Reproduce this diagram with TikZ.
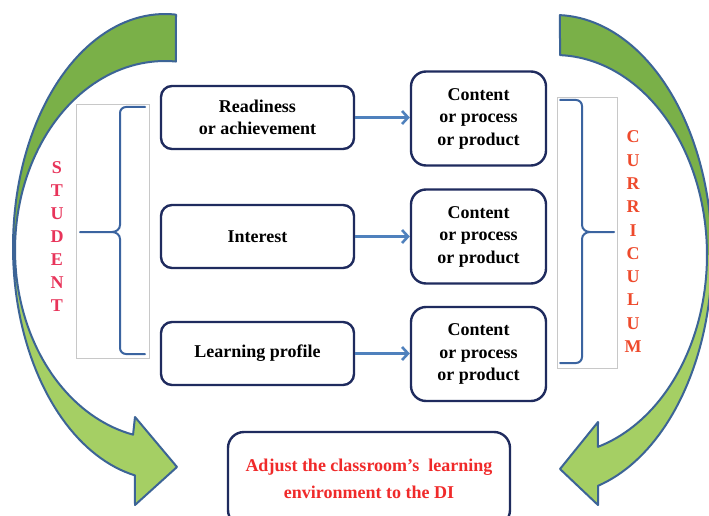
\documentclass[tikz,border=0pt]{standalone}
\usepackage{fontspec}
\setmainfont{Liberation Serif}
\usetikzlibrary{arrows.meta}

\definecolor{boxline}{HTML}{1F2B5E}
\definecolor{flowblue}{HTML}{4F81BD}
\definecolor{bracketblue}{HTML}{3B64A0}
\definecolor{arcdark}{HTML}{7AB048}
\definecolor{arclight}{HTML}{A5CF64}
\definecolor{arcline}{HTML}{3C6496}
\definecolor{studred}{HTML}{E8345A}
\definecolor{currred}{HTML}{EE4A2C}
\definecolor{adjred}{HTML}{F02A2A}
\definecolor{framegray}{HTML}{C8C8C8}

\begin{document}
\begin{tikzpicture}[x=1pt,y=-1pt,
  trait/.style={draw=boxline, line width=2.4pt, rounded corners=11pt,
    minimum width=193pt, minimum height=63pt, inner sep=0pt, align=center,
    font=\fontsize{18}{22.5}\selectfont\bfseries},
  target/.style={draw=boxline, line width=2.4pt, rounded corners=15pt,
    minimum width=135pt, minimum height=94pt, inner sep=0pt, align=center,
    font=\fontsize{18}{22.5}\selectfont\bfseries},
  goalbox/.style={draw=boxline, line width=2.4pt, rounded corners=16pt,
    minimum width=282pt, minimum height=94pt, inner sep=0pt, align=center,
    text=adjred, font=\fontsize{18}{27}\selectfont\bfseries},
  flow/.style={draw=flowblue, line width=2.6pt, -{Straight Barb[length=6pt,width=13pt]}},
  brace/.style={draw=bracketblue, line width=2pt, line cap=round},
  frame/.style={draw=framegray, line width=0.8pt},
  arcedge/.style={draw=arcline, line width=2pt, line join=round},
  studletter/.style={text=studred, font=\fontsize{18}{18}\selectfont\bfseries, inner sep=0pt},
  currletter/.style={text=currred, font=\fontsize{18}{18}\selectfont\bfseries, inner sep=0pt}]

\useasboundingbox (0,0) rectangle (709,516);
\clip (0,0) rectangle (709,516);
\fill[white] (0,0) rectangle (709,516);

% ---- left curved arrow (student side) ----
\fill[arclight]
  plot[domain=-85.85:-258.6, samples=90, variable=\t] ({165+152*cos(\t)},{247+233*sin(\t)})
  -- (135,505) -- (177,467) -- (135,417)
  -- plot[domain=-257.7:-85.8, samples=90, variable=\t] ({165+150*cos(\t)},{250+189*sin(\t)})
  -- cycle;
\fill[arcdark]
  plot[domain=-85.85:-180, samples=60, variable=\t] ({165+152*cos(\t)},{247+233*sin(\t)})
  -- plot[domain=-180:-85.8, samples=60, variable=\t] ({165+150*cos(\t)},{250+189*sin(\t)})
  -- cycle;
\draw[arcedge]
  plot[domain=-85.85:-258.6, samples=90, variable=\t] ({165+152*cos(\t)},{247+233*sin(\t)})
  -- (135,505) -- (177,467) -- (135,417)
  -- plot[domain=-257.7:-85.8, samples=90, variable=\t] ({165+150*cos(\t)},{250+189*sin(\t)})
  -- cycle;

% ---- right curved arrow (curriculum side) ----
\fill[arclight]
  plot[domain=-88.2:74.1, samples=90, variable=\t] ({555+157*cos(\t)},{255+240*sin(\t)})
  -- (598,505) -- (560,469) -- (598,422)
  -- plot[domain=73.6:-88.1, samples=90, variable=\t] ({555+152*cos(\t)},{255+200*sin(\t)})
  -- cycle;
\fill[arcdark]
  plot[domain=-88.2:0, samples=60, variable=\t] ({555+157*cos(\t)},{255+240*sin(\t)})
  -- plot[domain=0:-88.1, samples=60, variable=\t] ({555+152*cos(\t)},{255+200*sin(\t)})
  -- cycle;
\draw[arcedge]
  plot[domain=-88.2:74.1, samples=90, variable=\t] ({555+157*cos(\t)},{255+240*sin(\t)})
  -- (598,505) -- (560,469) -- (598,422)
  -- plot[domain=73.6:-88.1, samples=90, variable=\t] ({555+152*cos(\t)},{255+200*sin(\t)})
  -- cycle;

% ---- bracket frames ----
\draw[frame] (76,104) rectangle (149,358);
\draw[frame] (557,97) rectangle (617,368);

% left bracket
\draw[brace] (145,107) -- (126,107) to[out=180,in=90] (120,113) -- (120,225)
  to[out=-90,in=0] (112,232) -- (80,232);
\draw[brace] (112,232) to[out=0,in=90] (120,239) -- (120,348)
  to[out=-90,in=180] (126,354) -- (145,354);

% right bracket
\draw[brace] (560,100) -- (576,100) to[out=0,in=90] (582,106) -- (582,225)
  to[out=-90,in=180] (590,232) -- (614,232);
\draw[brace] (590,232) to[out=180,in=90] (582,239) -- (582,357)
  to[out=-90,in=0] (576,363) -- (560,363);

% ---- vertical labels ----
\foreach \ch [count=\i from 0] in {S,T,U,D,E,N,T}
  \node[studletter] (stud\i) at (57,{168+23*\i}) {\ch};
\foreach \ch [count=\i from 0] in {C,U,R,R,I,C,U,L,U,M}
  \node[currletter] (curr\i) at (633,{137+23.3*\i}) {\ch};

% ---- student traits ----
\node[trait] (readiness) at (257.5,117.5) {Readiness\\or achievement};
\node[trait] (interest)  at (257.5,236.5) {Interest};
\node[trait] (profile)   at (257.5,353.5) {Learning profile};

% ---- curriculum elements ----
\node[target] (cpp1) at (478.5,118.5) {Content\\or process\\or product};
\node[target] (cpp2) at (478.5,236.5) {Content\\or process\\or product};
\node[target] (cpp3) at (478.5,354)   {Content\\or process\\or product};

\draw[flow] (readiness.east) -- (cpp1.west |- readiness.east);
\draw[flow] (interest.east)  -- (cpp2.west |- interest.east);
\draw[flow] (profile.east)   -- (cpp3.west |- profile.east);

% ---- outcome ----
\node[goalbox] (adjust) at (369,479) {Adjust the classroom’s\ \ learning\\environment to the DI};

\end{tikzpicture}
\end{document}
